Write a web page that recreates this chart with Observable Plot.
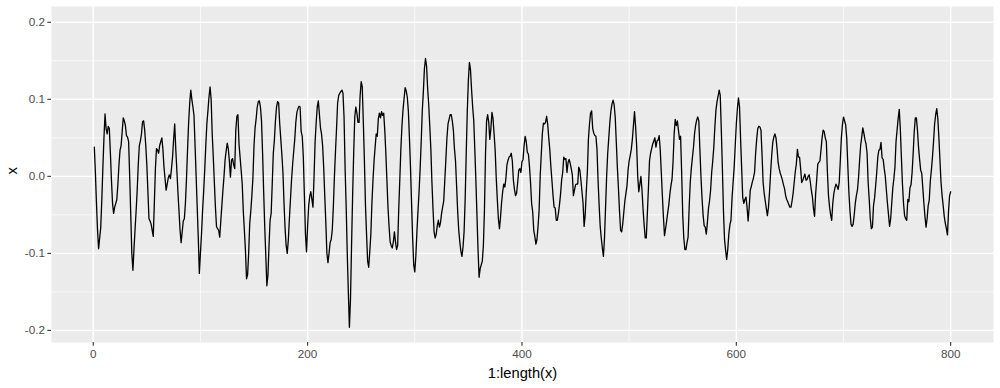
<!DOCTYPE html>
<html>
<head>
<meta charset="utf-8">
<script src="https://cdn.jsdelivr.net/npm/d3@7"></script>
<script src="https://cdn.jsdelivr.net/npm/@observablehq/plot@0.6"></script>
<style>
  html, body { margin: 0; padding: 0; background: #ffffff; }
  #chart svg { display: block; }
</style>
</head>
<body>
<div id="chart"></div>
<script>
// series x, plotted against 1:length(x)
const values = [
  0.038, 0.005, -0.035, -0.07, -0.094, -0.08, -0.066, -0.03, 0.012, 0.05,
  0.081, 0.062, 0.055, 0.065, 0.062, 0.03, -0.005, -0.035, -0.048, -0.04,
  -0.035, -0.03, -0.01, 0.015, 0.034, 0.04, 0.058, 0.076, 0.072, 0.066,
  0.053, 0.051, 0.045, 0.0, -0.05, -0.1, -0.122, -0.095, -0.069, -0.045,
  -0.018, 0.015, 0.04, 0.046, 0.055, 0.071, 0.072, 0.06, 0.04, 0.015,
  -0.02, -0.055, -0.058, -0.062, -0.07, -0.078, -0.035, 0.01, 0.036, 0.034,
  0.03, 0.04, 0.045, 0.05, 0.035, 0.012, -0.003, -0.018, -0.01, -0.002,
  0.002, -0.003, 0.01, 0.025, 0.048, 0.068, 0.035, 0.008, -0.02, -0.045,
  -0.07, -0.086, -0.072, -0.058, -0.055, -0.035, -0.003, 0.035, 0.07, 0.095,
  0.112, 0.1, 0.09, 0.079, 0.04, 0.0, -0.04, -0.08, -0.126, -0.1,
  -0.075, -0.045, -0.02, 0.008, 0.04, 0.068, 0.085, 0.103, 0.116, 0.1,
  0.055, 0.025, -0.008, -0.04, -0.065, -0.068, -0.07, -0.079, -0.058, -0.038,
  -0.018, 0.0, 0.021, 0.033, 0.043, 0.036, 0.02, -0.001, 0.021, 0.023,
  0.015, 0.01, 0.06, 0.078, 0.08, 0.042, 0.025, 0.008, -0.01, -0.045,
  -0.07, -0.096, -0.133, -0.128, -0.1, -0.061, -0.045, -0.025, -0.001, 0.04,
  0.063, 0.075, 0.09, 0.097, 0.098, 0.09, 0.072, 0.03, -0.02, -0.065,
  -0.103, -0.142, -0.128, -0.09, -0.057, -0.048, -0.01, 0.03, 0.047, 0.072,
  0.09, 0.097, 0.095, 0.068, 0.048, 0.028, 0.005, -0.035, -0.068, -0.09,
  -0.1, -0.083, -0.055, -0.03, -0.005, 0.015, 0.032, 0.048, 0.07, 0.083,
  0.088, 0.091, 0.09, 0.058, 0.052, 0.025, -0.025, -0.075, -0.098, -0.065,
  -0.038, -0.026, -0.02, -0.03, -0.04, -0.001, 0.045, 0.07, 0.09, 0.098,
  0.081, 0.063, 0.055, 0.04, 0.012, -0.025, -0.06, -0.1, -0.112, -0.1,
  -0.086, -0.082, -0.07, -0.04, -0.001, 0.032, 0.062, 0.095, 0.105, 0.108,
  0.11, 0.112, 0.108, 0.077, 0.01, -0.04, -0.1, -0.15, -0.196, -0.16,
  -0.09, -0.025, 0.03, 0.077, 0.09, 0.082, 0.07, 0.07, 0.105, 0.123,
  0.116, 0.07, 0.02, -0.038, -0.075, -0.11, -0.118, -0.098, -0.075, -0.035,
  -0.005, 0.02, 0.038, 0.055, 0.052, 0.075, 0.082, 0.076, 0.084, 0.079,
  0.082, 0.06, 0.03, -0.005, -0.04, -0.065, -0.085, -0.09, -0.093, -0.085,
  -0.072, -0.085, -0.095, -0.09, -0.044, -0.005, 0.035, 0.065, 0.086, 0.101,
  0.115, 0.111, 0.103, 0.085, 0.05, 0.012, -0.035, -0.08, -0.115, -0.124,
  -0.103, -0.072, -0.045, -0.02, 0.01, 0.045, 0.085, 0.11, 0.14, 0.153,
  0.143, 0.114, 0.093, 0.065, 0.035, -0.008, -0.042, -0.072, -0.08, -0.075,
  -0.064, -0.057, -0.066, -0.06, -0.048, -0.04, -0.032, -0.005, 0.022, 0.05,
  0.068, 0.074, 0.08, 0.08, 0.072, 0.06, 0.036, 0.02, -0.012, -0.045,
  -0.07, -0.085, -0.097, -0.104, -0.092, -0.072, -0.03, 0.03, 0.085, 0.125,
  0.148, 0.138, 0.112, 0.09, 0.073, 0.035, -0.005, -0.05, -0.095, -0.131,
  -0.12, -0.115, -0.11, -0.09, -0.044, 0.03, 0.072, 0.08, 0.07, 0.048,
  0.062, 0.083, 0.075, 0.055, 0.034, -0.002, -0.03, -0.055, -0.068, -0.053,
  -0.034, -0.02, -0.01, -0.014, -0.003, 0.015, 0.021, 0.025, 0.026, 0.03,
  0.02, -0.005, -0.017, -0.025, -0.022, -0.008, 0.008, 0.01, 0.005, 0.019,
  0.022, 0.04, 0.052, 0.045, 0.031, 0.029, 0.013, -0.008, -0.035, -0.046,
  -0.07, -0.078, -0.088, -0.082, -0.065, -0.044, 0.0, 0.028, 0.055, 0.069,
  0.068, 0.07, 0.078, 0.068, 0.05, 0.034, 0.012, -0.006, -0.025, -0.04,
  -0.041, -0.057, -0.057, -0.048, -0.037, -0.023, -0.005, 0.005, 0.025, 0.022,
  0.023, 0.005, 0.018, 0.022, 0.017, 0.01, 0.002, -0.025, -0.018, -0.011,
  -0.01, -0.01, 0.012, 0.008, -0.005, -0.02, -0.035, -0.065, -0.05, -0.02,
  0.005, 0.048, 0.068, 0.082, 0.085, 0.062, 0.056, 0.053, 0.052, 0.035,
  -0.005, -0.037, -0.065, -0.08, -0.093, -0.104, -0.08, -0.04, 0.0, 0.03,
  0.05, 0.07, 0.085, 0.094, 0.099, 0.093, 0.077, 0.045, 0.012, -0.015,
  -0.045, -0.07, -0.072, -0.062, -0.047, -0.032, -0.022, -0.012, 0.008, 0.02,
  0.027, 0.035, 0.048, 0.066, 0.084, 0.065, 0.04, 0.0, -0.02, -0.01,
  0.0, -0.018, -0.043, -0.063, -0.08, -0.08, -0.048, -0.015, 0.02, 0.03,
  0.036, 0.042, 0.046, 0.05, 0.038, 0.046, 0.047, 0.053, 0.035, 0.005,
  -0.025, -0.053, -0.077, -0.068, -0.058, -0.047, -0.037, -0.023, -0.012, -0.004,
  0.02, 0.055, 0.074, 0.066, 0.072, 0.06, 0.048, 0.052, 0.005, -0.05,
  -0.08, -0.095, -0.095, -0.086, -0.079, -0.04, -0.008, 0.01, 0.024, 0.037,
  0.055, 0.066, 0.073, 0.077, 0.072, 0.035, 0.0, -0.028, -0.05, -0.064,
  -0.066, -0.075, -0.06, -0.042, -0.032, -0.018, 0.005, 0.02, 0.038, 0.065,
  0.086, 0.097, 0.104, 0.112, 0.105, 0.06, 0.01, -0.045, -0.082, -0.096,
  -0.108, -0.095, -0.075, -0.063, -0.057, -0.028, -0.008, 0.012, 0.04, 0.068,
  0.088, 0.102, 0.09, 0.048, 0.01, -0.028, -0.035, -0.03, -0.027, -0.04,
  -0.058, -0.04, -0.018, -0.013, -0.007, -0.002, 0.005, 0.03, 0.048, 0.062,
  0.065, 0.064, 0.06, 0.028, -0.008, -0.022, -0.032, -0.042, -0.051, -0.04,
  -0.02, 0.005, 0.027, 0.044, 0.051, 0.055, 0.05, 0.036, 0.018, 0.01,
  0.004, 0.0, -0.005, -0.011, -0.016, -0.025, -0.03, -0.033, -0.037, -0.04,
  -0.04, -0.032, -0.022, -0.008, 0.006, 0.016, 0.035, 0.025, 0.025, 0.01,
  -0.008, -0.005, -0.001, 0.003, -0.005, -0.004, 0.0, 0.002, -0.007, -0.018,
  -0.027, -0.042, -0.052, -0.023, -0.004, 0.016, 0.018, 0.02, 0.034, 0.05,
  0.06, 0.058, 0.05, 0.045, 0.005, -0.025, -0.04, -0.05, -0.057, -0.035,
  -0.022, -0.015, -0.01, -0.013, -0.017, -0.008, 0.02, 0.05, 0.067, 0.077,
  0.072, 0.067, 0.05, 0.015, -0.02, -0.044, -0.062, -0.065, -0.062, -0.05,
  -0.035, -0.025, -0.018, -0.002, 0.02, 0.04, 0.051, 0.063, 0.056, 0.048,
  0.042, 0.03, -0.008, -0.03, -0.055, -0.068, -0.066, -0.038, -0.028, -0.012,
  0.005, 0.025, 0.034, 0.035, 0.044, 0.024, 0.022, 0.01, 0.0, -0.018,
  -0.035, -0.05, -0.065, -0.055, -0.035, -0.015, -0.003, 0.012, 0.045, 0.06,
  0.075, 0.087, 0.062, 0.025, -0.01, -0.035, -0.051, -0.055, -0.057, -0.03,
  -0.033, -0.015, -0.011, 0.005, 0.03, 0.058, 0.076, 0.076, 0.06, 0.038,
  0.022, 0.008, 0.004, -0.015, -0.035, -0.052, -0.066, -0.055, -0.038, -0.031,
  -0.006, 0.008, 0.025, 0.045, 0.068, 0.08, 0.088, 0.075, 0.05, 0.021,
  -0.008, -0.025, -0.038, -0.052, -0.061, -0.068, -0.076, -0.045, -0.025, -0.02
];

// axis breaks and labels
const xMajor = [0, 200, 400, 600, 800];
const xMinor = [100, 300, 500, 700];
const yMajor = [-0.2, -0.1, 0.0, 0.1, 0.2];
const yMinor = [-0.15, -0.05, 0.05, 0.15];
const yLabels = ["-0.2", "-0.1", "0.0", "0.1", "0.2"];
const xTitle = "1:length(x)";
const yTitle = "x";

const data = values.map((v, i) => ({index: i + 1, value: v}));

const font = "'Liberation Sans', Arial, Helvetica, sans-serif";

const chart = Plot.plot({
  width: 1000,
  height: 388,
  marginLeft: 51,
  marginRight: 7,
  marginTop: 6,
  marginBottom: 46,
  style: {fontFamily: font, background: "#ffffff", overflow: "visible"},
  x: {domain: [-38.95, 839.95]},
  y: {domain: [-0.2157, 0.2205]},
  marks: [
    Plot.frame({fill: "#EBEBEB", stroke: null}),
    Plot.ruleX(xMinor, {stroke: "#ffffff", strokeWidth: 0.7}),
    Plot.ruleY(yMinor, {stroke: "#ffffff", strokeWidth: 0.7}),
    Plot.ruleX(xMajor, {stroke: "#ffffff", strokeWidth: 1.4}),
    Plot.ruleY(yMajor, {stroke: "#ffffff", strokeWidth: 1.4}),
    Plot.line(data, {x: "index", y: "value", stroke: "#000000", strokeWidth: 1.3}),
    // ticks
    Plot.axisX({ticks: xMajor, tickSize: 3.7, text: null, stroke: "#333333", strokeWidth: 1.1, label: null}),
    Plot.axisY({ticks: yMajor, tickSize: 3.7, text: null, stroke: "#333333", strokeWidth: 1.1, label: null}),
    // tick labels
    Plot.axisX({ticks: xMajor, tickSize: 0, tickPadding: 7, fill: "#4D4D4D", fontSize: 11.7, label: null, tickFormat: d => String(d)}),
    Plot.axisY({ticks: yMajor, tickSize: 0, tickPadding: 6.6, fill: "#4D4D4D", fontSize: 11.7, label: null,
      tickFormat: d => yLabels[yMajor.indexOf(d)]}),
    // axis titles
    Plot.text([xTitle], {frameAnchor: "bottom", lineAnchor: "top", dy: 25, fontSize: 14.7, fill: "#000000"}),
    Plot.text([yTitle], {frameAnchor: "left", rotate: -90, dx: -39, fontSize: 14.7, fill: "#000000"})
  ]
});

document.getElementById("chart").appendChild(chart);
</script>
</body>
</html>
